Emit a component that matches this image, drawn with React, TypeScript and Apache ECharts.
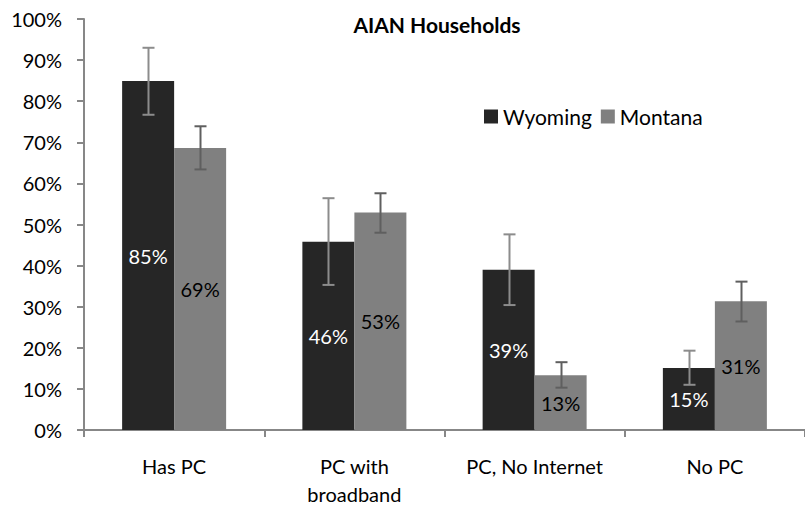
import React, { useEffect, useRef } from "react";
import * as echarts from "echarts";

const categories = ["Has PC", "PC with\nbroadband", "PC, No Internet", "No PC"];
const seriesNames = ["Wyoming", "Montana"];
const wyoming = [84.9, 45.8, 39.0, 15.1];
const montana = [68.6, 52.9, 13.3, 31.3];
const wyomingLow = [76.7, 35.3, 30.4, 11.0];
const wyomingHigh = [93.0, 56.4, 47.6, 19.3];
const montanaLow = [63.4, 48.0, 10.3, 26.4];
const montanaHigh = [73.9, 57.6, 16.5, 36.1];
const yTicks = [0, 10, 20, 30, 40, 50, 60, 70, 80, 90, 100];

const FONT = "Lato";
const BAR_W = 52;

function errorSeries(low: number[], high: number[], offset: number, color: string) {
  return {
    type: "custom",
    silent: true,
    z: 5,
    data: low.map((l, i) => [i, l, high[i]]),
    encode: { x: 0, y: [1, 2] },
    renderItem: (params: any, api: any) => {
      const i = api.value(0);
      const lo = api.coord([i, api.value(1)]);
      const hi = api.coord([i, api.value(2)]);
      const x = Math.round(lo[0] + offset) + 0.5;
      const cap = 6;
      const style = { stroke: color, lineWidth: 2, fill: "none" };
      return {
        type: "group",
        children: [
          { type: "line", shape: { x1: x, y1: hi[1], x2: x, y2: lo[1] }, style },
          { type: "line", shape: { x1: x - cap, y1: hi[1], x2: x + cap, y2: hi[1] }, style },
          { type: "line", shape: { x1: x - cap, y1: lo[1], x2: x + cap, y2: lo[1] }, style },
        ],
      };
    },
  };
}

export default function App() {
  const ref = useRef<HTMLDivElement>(null);
  useEffect(() => {
    if (!ref.current) return;
    const chart = echarts.init(ref.current, undefined, { renderer: "svg" });
    chart.setOption({
      animation: false,
      backgroundColor: "#ffffff",
      title: {
        text: "AIAN Households",
        left: 432,
        textAlign: "center",
        top: 9,
        textStyle: { fontFamily: FONT, fontSize: 21, fontWeight: "bold", color: "#000" },
      },
      legend: {
        data: seriesNames,
        left: 479,
        top: 101,
        itemWidth: 14,
        itemHeight: 14,
        itemGap: 9,
        icon: "rect",
        textStyle: { fontFamily: FONT, fontSize: 21, color: "#000" },
      },
      grid: { left: 84, top: 19, right: -9, bottom: 72, containLabel: false },
      xAxis: {
        type: "category",
        data: categories,
        axisLine: { lineStyle: { color: "#878787", width: 2 } },
        axisTick: { show: true, length: 7, lineStyle: { color: "#878787", width: 2 } },
        axisLabel: {
          fontFamily: FONT,
          fontSize: 20,
          color: "#000",
          margin: 22,
          lineHeight: 28,
          interval: 0,
        },
      },
      yAxis: {
        type: "value",
        min: 0,
        max: 100,
        interval: 10,
        splitLine: { show: false },
        axisLine: { show: true, lineStyle: { color: "#878787", width: 2 } },
        axisTick: { show: true, length: 7, lineStyle: { color: "#878787", width: 2 } },
        axisLabel: {
          fontFamily: FONT,
          fontSize: 20,
          color: "#000",
          margin: 22,
          formatter: (v: number) => (yTicks.includes(v) ? v + "%" : ""),
        },
      },
      series: [
        {
          name: seriesNames[0],
          type: "bar",
          data: wyoming,
          barWidth: BAR_W,
          barGap: "0%",
          itemStyle: { color: "#262626" },
          label: {
            show: true,
            position: "inside",
            color: "#ffffff",
            fontFamily: FONT,
            fontSize: 20,
            formatter: (p: any) => Math.round(p.value) + "%",
          },
        },
        {
          name: seriesNames[1],
          type: "bar",
          data: montana,
          barWidth: BAR_W,
          barGap: "0%",
          itemStyle: { color: "#808080" },
          label: {
            show: true,
            position: "inside",
            color: "#000000",
            fontFamily: FONT,
            fontSize: 20,
            formatter: (p: any) => Math.round(p.value) + "%",
          },
        },
        errorSeries(wyomingLow, wyomingHigh, -BAR_W / 2, "#8c8c8c"),
        errorSeries(montanaLow, montanaHigh, BAR_W / 2, "#5f5f5f"),
      ],
    });
    return () => chart.dispose();
  }, []);
  return <div ref={ref} style={{ width: 805, height: 508, position: "absolute", left: 0, top: 0 }} />;
}
